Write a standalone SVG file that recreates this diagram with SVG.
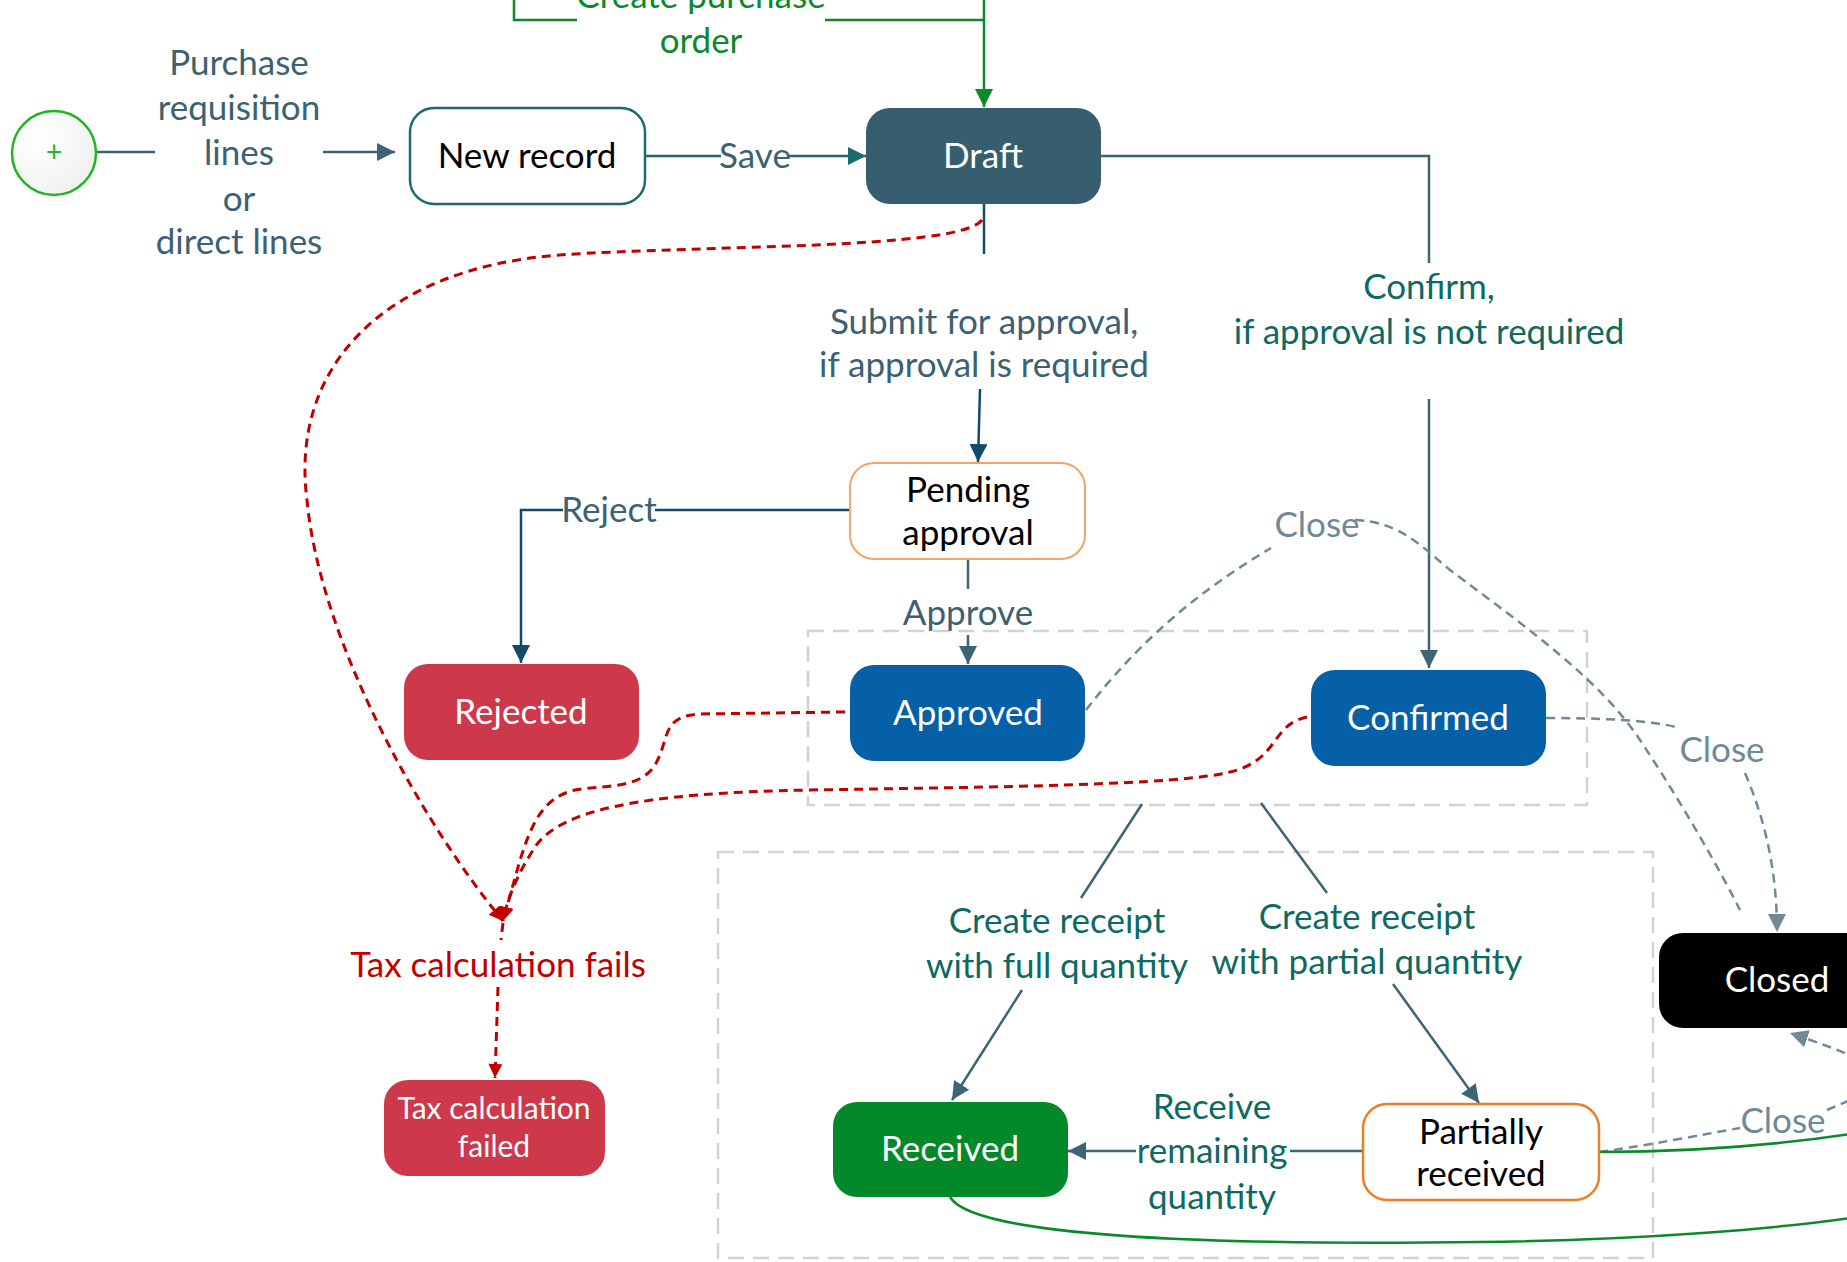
<svg xmlns="http://www.w3.org/2000/svg" width="1847" height="1262" viewBox="0 0 1847 1262">
<style>
text{font-family:Lato,"Open Sans","Liberation Sans",sans-serif;text-anchor:middle;dominant-baseline:central}
.n{font-size:35px}
.l{font-size:35px}
.w{fill:#fff}
.k{fill:#000}
.slate{fill:#3b6172}
.teal{fill:#0d6a63}
.grn{fill:#0a8a2a}
.red{fill:#c00000}
.gry{fill:#6f8a96}
.c{fill:none;stroke-width:2.5}
.cs{stroke:#3d6474}
.cn{stroke:#124b68}
.ct{stroke:#22666e}
.cg{stroke:#0a8a2a}
.cr{stroke:#c00000;stroke-dasharray:9 6;stroke-width:3}
.cc{stroke:#6f8a96;stroke-dasharray:9 6}
.box{fill:none;stroke:#d2d2d2;stroke-width:2.5;stroke-dasharray:16 9}
</style>
<defs>
<marker id="aS" viewBox="0 0 10 10" refX="10" refY="5" markerWidth="18" markerHeight="18" markerUnits="userSpaceOnUse" orient="auto"><path d="M0,0L10,5L0,10z" fill="#3d6474"/></marker>
<marker id="aN" viewBox="0 0 10 10" refX="10" refY="5" markerWidth="18" markerHeight="18" markerUnits="userSpaceOnUse" orient="auto"><path d="M0,0L10,5L0,10z" fill="#124b68"/></marker>
<marker id="aT" viewBox="0 0 10 10" refX="10" refY="5" markerWidth="20" markerHeight="18" markerUnits="userSpaceOnUse" orient="auto"><path d="M0,0L10,5L0,10z" fill="#1d6a6c"/></marker>
<marker id="aG" viewBox="0 0 10 10" refX="10" refY="5" markerWidth="18" markerHeight="18" markerUnits="userSpaceOnUse" orient="auto"><path d="M0,0L10,5L0,10z" fill="#0a8a2a"/></marker>
<marker id="aR" viewBox="0 0 10 10" refX="10" refY="5" markerWidth="16" markerHeight="14" markerUnits="userSpaceOnUse" orient="auto"><path d="M0,0L10,5L0,10z" fill="#c00000"/></marker>
<marker id="aC" viewBox="0 0 10 10" refX="10" refY="5" markerWidth="18" markerHeight="18" markerUnits="userSpaceOnUse" orient="auto"><path d="M0,0L10,5L0,10z" fill="#6f8a96"/></marker>
<radialGradient id="sg" cx="0.3" cy="0.3" r="0.8"><stop offset="0" stop-color="#ffffff"/><stop offset="1" stop-color="#eef2ee"/></radialGradient>
</defs>

<g id="groups">
<rect class="box" x="808" y="631" width="779" height="174"/>
<rect class="box" x="718" y="852" width="935" height="406"/>
</g>

<g id="connectors">
<!-- start -->
<path class="c cs" d="M96,152H155"/>
<path class="c cs" d="M323,152H395" marker-end="url(#aS)"/>
<text class="l slate" x="239" y="61">Purchase</text>
<text class="l slate" x="239" y="106">requisition</text>
<text class="l slate" x="239" y="151">lines</text>
<text class="l slate" x="239" y="197">or</text>
<text class="l slate" x="239" y="240">direct lines</text>
<!-- save -->
<path class="c ct" d="M645,156H721"/>
<path class="c ct" d="M789,156H866" marker-end="url(#aT)"/>
<text class="l slate" x="755" y="154">Save</text>
<!-- create purchase order -->
<path class="c cg" d="M514,0V20H577"/>
<path class="c cg" d="M825,20H984"/>
<path class="c cg" d="M984,0V107" marker-end="url(#aG)"/>
<text class="l grn" x="701" y="-6">Create purchase</text>
<text class="l grn" x="701" y="39">order</text>
<!-- confirm -->
<path class="c cs" d="M1101,156H1429V263"/>
<path class="c cs" d="M1429,399V668" marker-end="url(#aS)"/>
<text class="l teal" x="1429" y="285">Confirm,</text>
<text class="l teal" x="1429" y="330">if approval is not required</text>
<!-- submit -->
<path class="c cn" d="M984,204V254"/>
<path class="c cn" d="M980,389L978,462" marker-end="url(#aN)"/>
<text class="l slate" x="984" y="320">Submit for approval,</text>
<text class="l slate" x="984" y="363">if approval is required</text>
<!-- reject -->
<path class="c cn" d="M850,510H655"/>
<path class="c cn" d="M563,510H521V663" marker-end="url(#aN)"/>
<text class="l slate" x="609" y="508">Reject</text>
<!-- approve -->
<path class="c cs" d="M968,559V589"/>
<path class="c cs" d="M968,635V664" marker-end="url(#aS)"/>
<text class="l slate" x="968" y="611">Approve</text>
<!-- create receipt full -->
<path class="c cs" d="M1142,804L1081,898"/>
<path class="c cs" d="M1022,990L952,1100" marker-end="url(#aS)"/>
<text class="l teal" x="1057" y="919">Create receipt</text>
<text class="l teal" x="1057" y="964">with full quantity</text>
<!-- create receipt partial -->
<path class="c cs" d="M1261,803L1327,893"/>
<path class="c cs" d="M1393,984L1479,1103" marker-end="url(#aS)"/>
<text class="l teal" x="1367" y="915">Create receipt</text>
<text class="l teal" x="1367" y="960">with partial quantity</text>
<!-- receive remaining -->
<path class="c cs" d="M1363,1151H1290"/>
<path class="c cs" d="M1136,1151H1068" marker-end="url(#aS)"/>
<text class="l teal" x="1212" y="1105">Receive</text>
<text class="l teal" x="1212" y="1149">remaining</text>
<text class="l teal" x="1212" y="1195">quantity</text>
<!-- close edges -->
<path class="c cc" d="M1086,710C1140,640 1200,590 1271,548"/>
<path class="c cc" d="M1355,520C1400,522 1420,545 1450,570C1530,630 1600,680 1640,740C1680,800 1720,870 1740,910"/>
<text class="l gry" x="1317" y="523">Close</text>
<path class="c cc" d="M1546,718C1600,718 1650,720 1680,728"/>
<path class="c cc" d="M1745,773C1765,820 1777,870 1777,932" marker-end="url(#aC)"/>
<text class="l gry" x="1722" y="748">Close</text>
<path class="c cc" d="M1599,1152C1650,1145 1700,1135 1740,1128"/>
<path class="c cc" d="M1827,1110C1900,1080 1900,1070 1790,1033" marker-end="url(#aC)"/>
<text class="l gry" x="1783" y="1119">Close</text>
<!-- green exits -->
<path class="c cg" d="M1599,1152C1700,1152 1790,1143 1850,1134"/>
<path class="c cg" d="M950,1197C975,1240 1250,1245 1480,1242C1650,1240 1780,1228 1850,1218"/>
<!-- tax calculation fails -->
<path class="c cr" d="M982,220C960,250 700,245 560,255C380,268 290,370 307,500C320,640 420,820 503,921" marker-end="url(#aR)"/>
<path class="c cr" d="M845,712L700,714C660,716 670,740 655,765C640,790 600,785 575,790C540,798 530,830 520,860L503,921" marker-end="url(#aR)"/>
<path class="c cr" d="M1307,717C1270,725 1280,760 1230,772C1180,785 1000,787 810,790C640,793 560,810 535,847C520,870 508,895 503,921" marker-end="url(#aR)"/>
<path class="c cr" d="M503,923L501,940"/>
<path class="c cr" d="M498,987L495,1078" marker-end="url(#aR)"/>
<text class="l red" x="498" y="963">Tax calculation fails</text>
</g>

<g id="start">
<circle cx="54" cy="153" r="42" fill="url(#sg)" stroke="#22b522" stroke-width="2.5"/>
<text x="54" y="151" style="font-size:28px;fill:#22b522">+</text>
</g>
<g id="new-record">
<rect x="410" y="108" width="235" height="96" rx="24" fill="#fff" stroke="#1d6b72" stroke-width="2.5"/>
<text class="n k" x="527" y="154">New record</text>
</g>
<g id="draft">
<rect x="866" y="108" width="235" height="96" rx="24" fill="#365e6e"/>
<text class="n w" x="983" y="154">Draft</text>
</g>
<g id="pending-approval">
<rect x="850" y="463" width="235" height="96" rx="24" fill="#fff" stroke="#f4a468" stroke-width="2"/>
<text class="n k" x="968" y="488">Pending</text>
<text class="n k" x="968" y="531">approval</text>
</g>
<g id="rejected">
<rect x="404" y="664" width="235" height="96" rx="24" fill="#cd384b"/>
<text class="n w" x="521" y="710">Rejected</text>
</g>
<g id="approved">
<rect x="850" y="665" width="235" height="96" rx="24" fill="#0560a8"/>
<text class="n w" x="968" y="711">Approved</text>
</g>
<g id="confirmed">
<rect x="1311" y="670" width="235" height="96" rx="24" fill="#0560a8"/>
<text class="n w" x="1428" y="716">Confirmed</text>
</g>
<g id="tax-calculation-failed">
<rect x="384" y="1080" width="221" height="96" rx="24" fill="#cd384b"/>
<text class="w" style="font-size:30px" x="494" y="1107">Tax calculation</text>
<text class="w" style="font-size:30px" x="494" y="1145">failed</text>
</g>
<g id="received">
<rect x="833" y="1102" width="235" height="95" rx="24" fill="#03892a"/>
<text class="n w" x="950" y="1147">Received</text>
</g>
<g id="partially-received">
<rect x="1363" y="1104" width="236" height="96" rx="24" fill="#fff" stroke="#ef7d22" stroke-width="2.5"/>
<text class="n k" x="1481" y="1130">Partially</text>
<text class="n k" x="1481" y="1172">received</text>
</g>
<g id="closed">
<rect x="1659" y="933" width="235" height="95" rx="24" fill="#000"/>
<text class="n w" x="1777" y="978">Closed</text>
</g>
</svg>
